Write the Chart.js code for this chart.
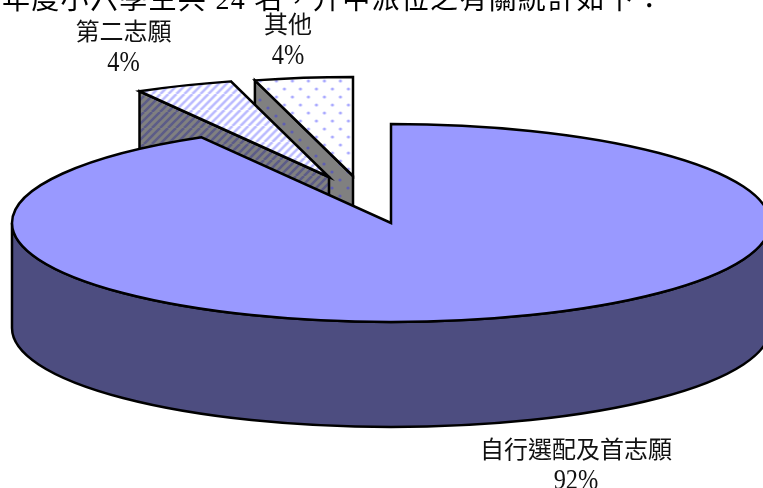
<!DOCTYPE html>
<html lang="zh-Hant">
<head>
<meta charset="utf-8">
<title>升中派位統計</title>
<style>html,body{margin:0;padding:0;background:#fff;overflow:hidden}canvas{display:block}</style>
<script src="https://cdn.jsdelivr.net/npm/chart.js@4"></script>
</head>
<body>
<canvas id="c" width="763" height="488"></canvas>
<script>
const categories = ['自行選配及首志願', '第二志願', '其他'];
const studentCounts = [22, 1, 1];
const percentLabels = ['92%', '4%', '4%'];
const captionText = '年度小六學生共 24 名，升中派位之有關統計如下：';

const PIE = { cx: 391, cy: 223, rx: 379, ry: 99, depth: 105 };
const SHIFT_X = [0, -62, -38];
const SHIFT_Y = [0, -46, -47];
const LABEL_X = [576, 123.5, 288];
const LABEL_Y = [452, 34, 27];
const PCT_Y = [481, 63, 56];
const FONT = '"Liberation Serif","Noto Sans CJK TC"';

function tile(bg, paint) {
  const t = document.createElement('canvas');
  t.width = t.height = 16;
  const g = t.getContext('2d');
  g.fillStyle = bg; g.fillRect(0, 0, 16, 16);
  paint(g);
  return document.createElement('canvas').getContext('2d').createPattern(t, 'repeat');
}
function stripes(color) {
  return g => {
    g.strokeStyle = color; g.lineWidth = 2.6;
    for (let k = -16; k <= 32; k += 8) {
      g.beginPath(); g.moveTo(k, 16); g.lineTo(k + 16, 0); g.stroke();
    }
  };
}
function dots(color) {
  return g => {
    g.fillStyle = color;
    [[4, 4], [12, 12]].forEach(([x, y]) => { g.beginPath(); g.arc(x, y, 1.6, 0, Math.PI * 2); g.fill(); });
  };
}
const topFills = ['#9999FF', tile('#FFFFFF', stripes('#BBBBFF')), tile('#FFFFFF', dots('#A8A8FF'))];
const wallFills = ['#4D4D80', tile('#808080', stripes('#5C5C88')), tile('#808080', dots('#5F5FB0'))];

const pie3d = {
  id: 'pie3d',
  beforeDatasetDraw(chart, args) {
    const ctx = chart.ctx, arcs = args.meta.data;
    const { cx, cy, rx, ry, depth } = PIE;
    const stroke = () => {
      ctx.lineWidth = 2.5; ctx.strokeStyle = '#000'; ctx.lineJoin = 'miter'; ctx.stroke();
    };
    const drawTop = i => {
      const a = arcs[i], R = a.outerRadius, sx = rx / R, sy = ry / R;
      const x0 = cx + SHIFT_X[i], y0 = cy + SHIFT_Y[i];
      if (topFills[i].setTransform) topFills[i].setTransform(new DOMMatrix().scale(1 / sx, 1 / sy));
      ctx.save();
      ctx.translate(x0, y0); ctx.scale(sx, sy); ctx.translate(-a.x, -a.y);
      a.draw(ctx);
      ctx.restore();
      ctx.beginPath();
      ctx.moveTo(x0, y0);
      ctx.lineTo(x0 + rx * Math.cos(a.startAngle), y0 + ry * Math.sin(a.startAngle));
      ctx.ellipse(x0, y0, rx, ry, 0, a.startAngle, a.endAngle);
      ctx.closePath();
      stroke();
    };
    const drawCutWall = i => {
      const a = arcs[i];
      const x0 = cx + SHIFT_X[i], y0 = cy + SHIFT_Y[i];
      const ox = x0 + rx * Math.cos(a.startAngle), oy = y0 + ry * Math.sin(a.startAngle);
      ctx.beginPath();
      ctx.moveTo(ox, oy); ctx.lineTo(x0, y0); ctx.lineTo(x0, y0 + depth); ctx.lineTo(ox, oy + depth);
      ctx.closePath();
      ctx.fillStyle = wallFills[i]; ctx.fill();
      stroke();
    };
    const drawFrontWall = () => {
      ctx.beginPath();
      ctx.ellipse(cx, cy, rx, ry, 0, 0, Math.PI);
      ctx.lineTo(cx - rx, cy + depth);
      ctx.ellipse(cx, cy + depth, rx, ry, 0, Math.PI, 0, true);
      ctx.closePath();
      ctx.fillStyle = wallFills[0]; ctx.fill();
      stroke();
    };
    drawCutWall(2); drawTop(2);
    drawCutWall(1); drawTop(1);
    drawFrontWall(); drawTop(0);
    return false;
  },
  afterDraw(chart) {
    const ctx = chart.ctx;
    ctx.save();
    ctx.fillStyle = '#111';
    ctx.textBaseline = 'middle';
    ctx.textAlign = 'center';
    categories.forEach((c, i) => {
      ctx.font = '24px ' + FONT;
      ctx.fillText(c, LABEL_X[i], LABEL_Y[i]);
      ctx.save();
      ctx.translate(LABEL_X[i], PCT_Y[i]);
      ctx.scale(0.84, 1);
      ctx.font = '29px ' + FONT;
      ctx.fillText(percentLabels[i], 0, 0);
      ctx.restore();
    });
    ctx.fillStyle = '#000';
    ctx.textAlign = 'left';
    ctx.textBaseline = 'alphabetic';
    ctx.font = '28px ' + FONT;
    ctx.letterSpacing = '1.3px';
    ctx.fillText(captionText, 2, 9);
    ctx.restore();
  }
};

new Chart(document.getElementById('c'), {
  type: 'pie',
  data: {
    labels: categories,
    datasets: [{ data: studentCounts, backgroundColor: topFills, borderWidth: 0 }]
  },
  options: {
    responsive: false,
    animation: false,
    devicePixelRatio: 1,
    events: [],
    plugins: { legend: { display: false }, tooltip: { enabled: false } }
  },
  plugins: [pie3d]
});
</script>
</body>
</html>
